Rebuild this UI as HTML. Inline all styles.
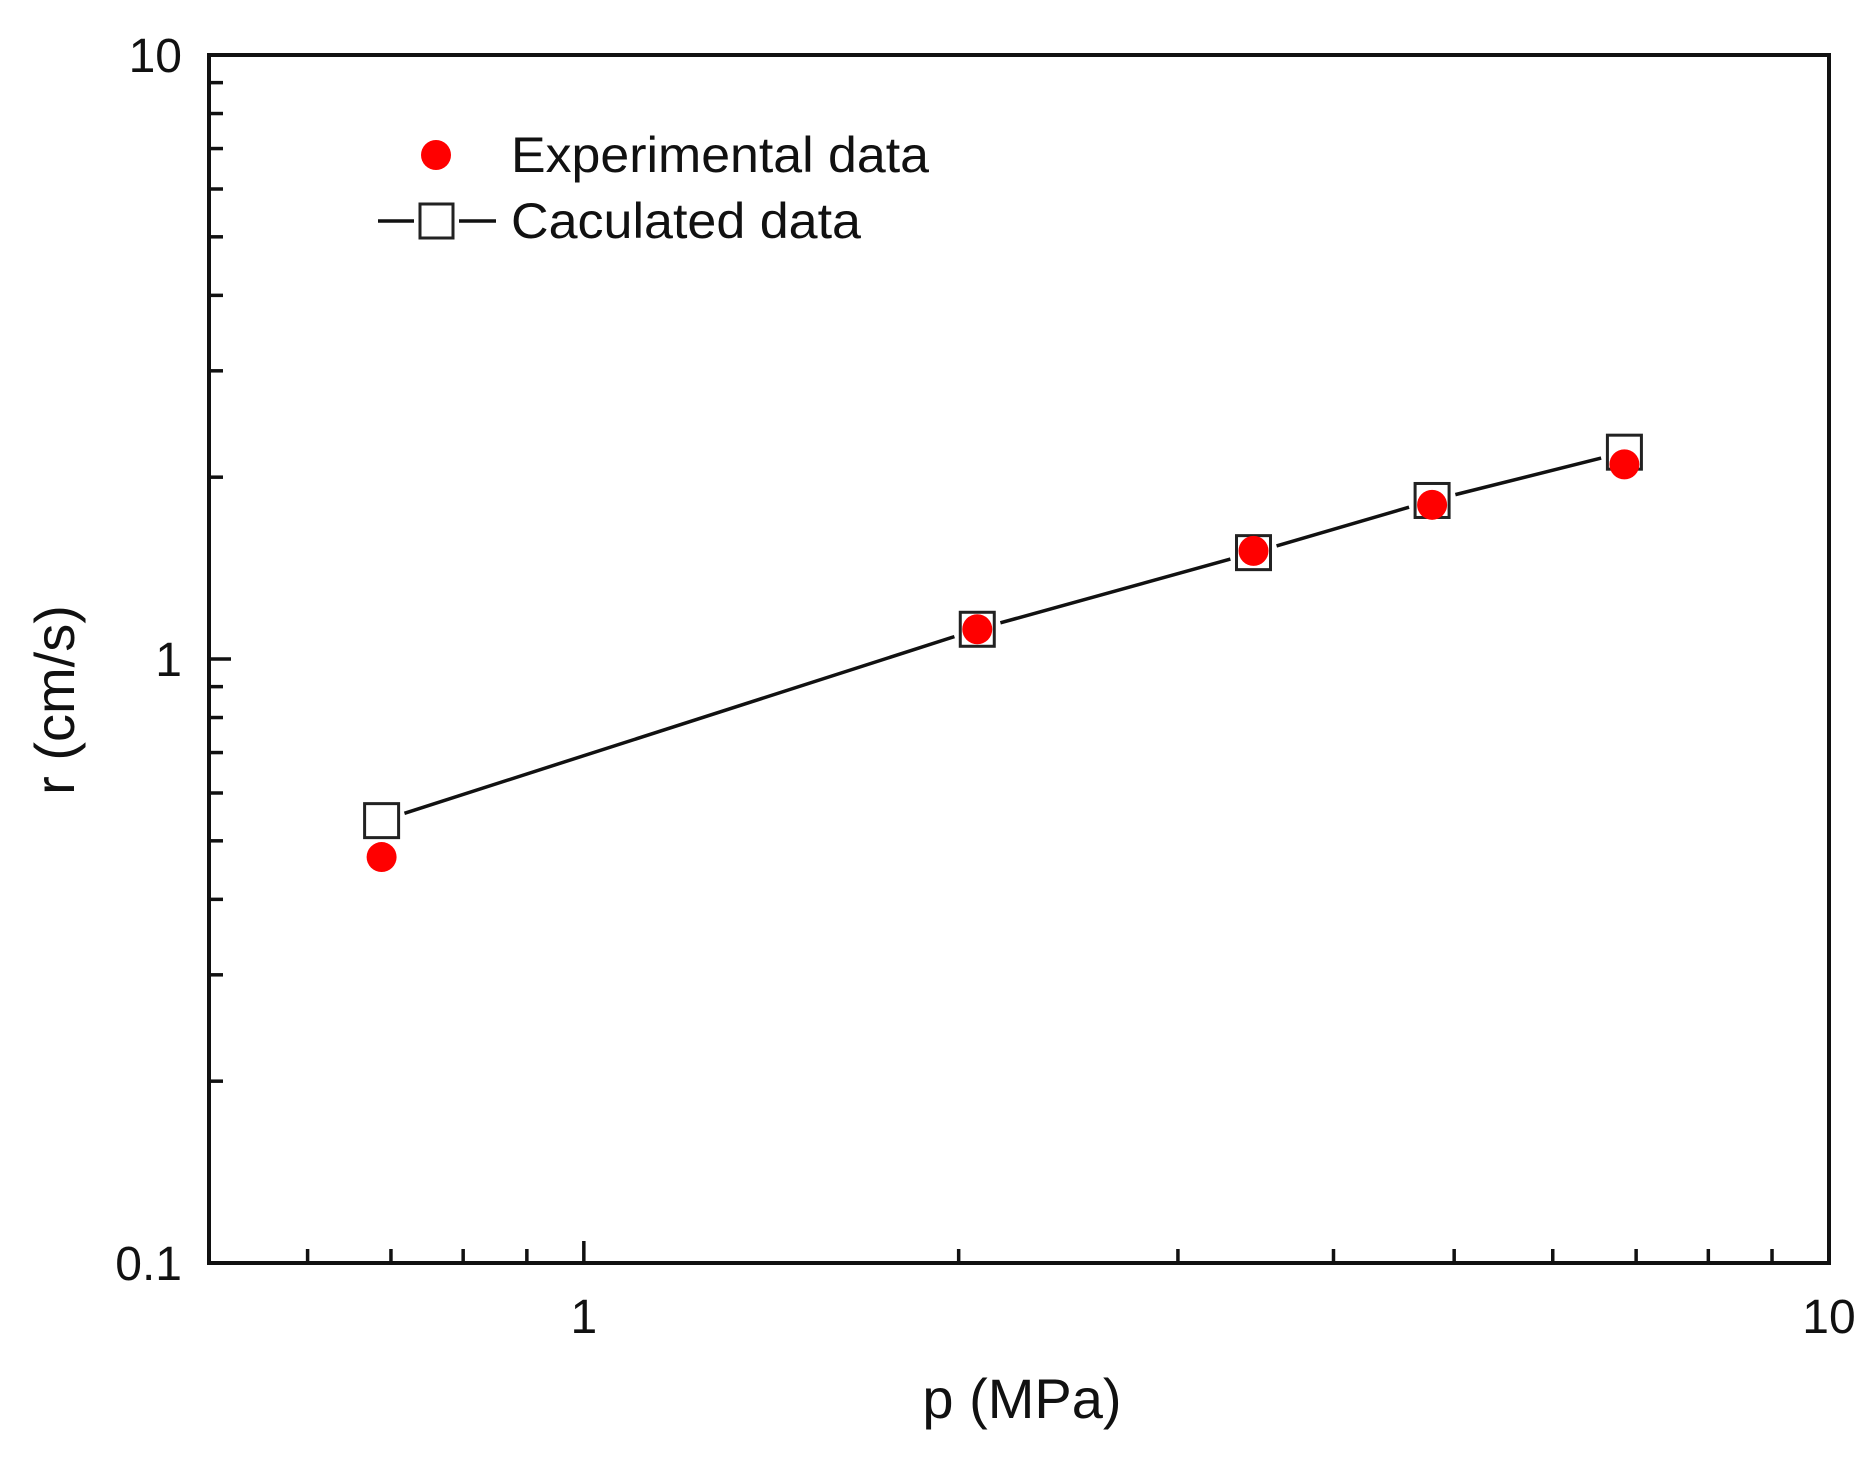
<!DOCTYPE html>
<html><head><meta charset="utf-8">
<style>
html,body{margin:0;padding:0;background:#fff;}
svg{display:block;font-family:"Liberation Sans",Arial,sans-serif;}
</style></head>
<body>
<svg id="chart" width="1876" height="1461" viewBox="0 0 1876 1461">
<g id="axes"></g>
<g id="series"></g>
<g>
  <circle cx="436" cy="155" r="15" fill="#ff0000"/>
  <text x="511" y="172" font-size="50" fill="#111" textLength="418" lengthAdjust="spacingAndGlyphs">Experimental data</text>
  <line x1="378" y1="221" x2="414" y2="221" stroke="#111" stroke-width="3.5"/>
  <rect x="420" y="204" width="33" height="34" fill="#fff" stroke="#222" stroke-width="3"/>
  <line x1="459" y1="221" x2="496" y2="221" stroke="#111" stroke-width="3.5"/>
  <text x="511" y="238" font-size="50" fill="#111" textLength="350" lengthAdjust="spacingAndGlyphs">Caculated data</text>
</g>
<text x="1022" y="1418" font-size="56" text-anchor="middle" fill="#111">p (MPa)</text>
<text transform="translate(74,700) rotate(-90)" font-size="56" text-anchor="middle" fill="#111">r (cm/s)</text>
</svg>
<script>
const pressure = [0.688, 2.07, 3.45, 4.8, 6.85];
const experimental = [0.47, 1.12, 1.51, 1.80, 2.10];
const calculated = [0.54, 1.12, 1.50, 1.83, 2.20];
const xTickLabels = ["1", "10"];
const yTickLabels = ["0.1", "1", "10"];
const xMin = 0.5, xMax = 10, yMin = 0.1, yMax = 10;
const L = 209, R = 1829, T = 55, B = 1263;
const NS = 'http://www.w3.org/2000/svg';
function sx(v){return L + (Math.log10(v)-Math.log10(xMin))/(Math.log10(xMax)-Math.log10(xMin))*(R-L);}
function sy(v){return B - (Math.log10(v)-Math.log10(yMin))/(Math.log10(yMax)-Math.log10(yMin))*(B-T);}
function mk(tag, attrs, parent){const e=document.createElementNS(NS,tag);for(const k in attrs)e.setAttribute(k,attrs[k]);parent.appendChild(e);return e;}
const axes=document.getElementById('axes'), series=document.getElementById('series');
const frame = mk('rect',{x:L,y:T,width:R-L,height:B-T,fill:'none',stroke:'#111','stroke-width':4},axes);


for(let d=-1; d<=0; d++){
  for(let m=1;m<=9;m++){
    const v=m*Math.pow(10,d);
    if(v<xMin||v>xMax) continue;
    const x=sx(v), major=(m===1);
    const t=mk('line',{x1:x,y1:B,x2:x,y2:B-(major?22:14),stroke:'#111','stroke-width':3.5},axes);
    
    
  }
}
xTickLabels.forEach(s=>{
  const t=mk('text',{x:sx(parseFloat(s)),y:1333,'font-size':48,'text-anchor':'middle',fill:'#111'},axes);
  t.textContent=s;
  
  
});
for(let d=-1; d<=0; d++){
  for(let m=1;m<=9;m++){
    const v=m*Math.pow(10,d);
    const y=sy(v), major=(m===1);
    const t=mk('line',{x1:L,y1:y,x2:L+(major?22:14),y2:y,stroke:'#111','stroke-width':3.5},axes);
    
    
  }
}
yTickLabels.forEach(s=>{
  const t=mk('text',{x:182,y:sy(parseFloat(s))+17,'font-size':48,'text-anchor':'end',fill:'#111'},axes);
  t.textContent=s;
  
  
});
const half=17, gap=7;
for(let i=0;i<pressure.length-1;i++){
  const x1=sx(pressure[i]),y1=sy(calculated[i]),x2=sx(pressure[i+1]),y2=sy(calculated[i+1]);
  const dx=x2-x1,dy=y2-y1,len=Math.hypot(dx,dy),ux=dx/len,uy=dy/len;
  const off=half+gap;
  const l=mk('line',{x1:x1+ux*off,y1:y1+uy*off,x2:x2-ux*off,y2:y2-uy*off,stroke:'#111','stroke-width':3.5},series);
  
  
}
pressure.forEach((p,i)=>{
  const r=mk('rect',{x:sx(p)-half,y:sy(calculated[i])-half,width:2*half,height:2*half,fill:'#fff',stroke:'#222','stroke-width':3},series);
  
  
});
pressure.forEach((p,i)=>{
  const c=mk('circle',{cx:sx(p),cy:sy(experimental[i]),r:15,fill:'#ff0000'},series);
  
  
});
</script>
</body></html>
